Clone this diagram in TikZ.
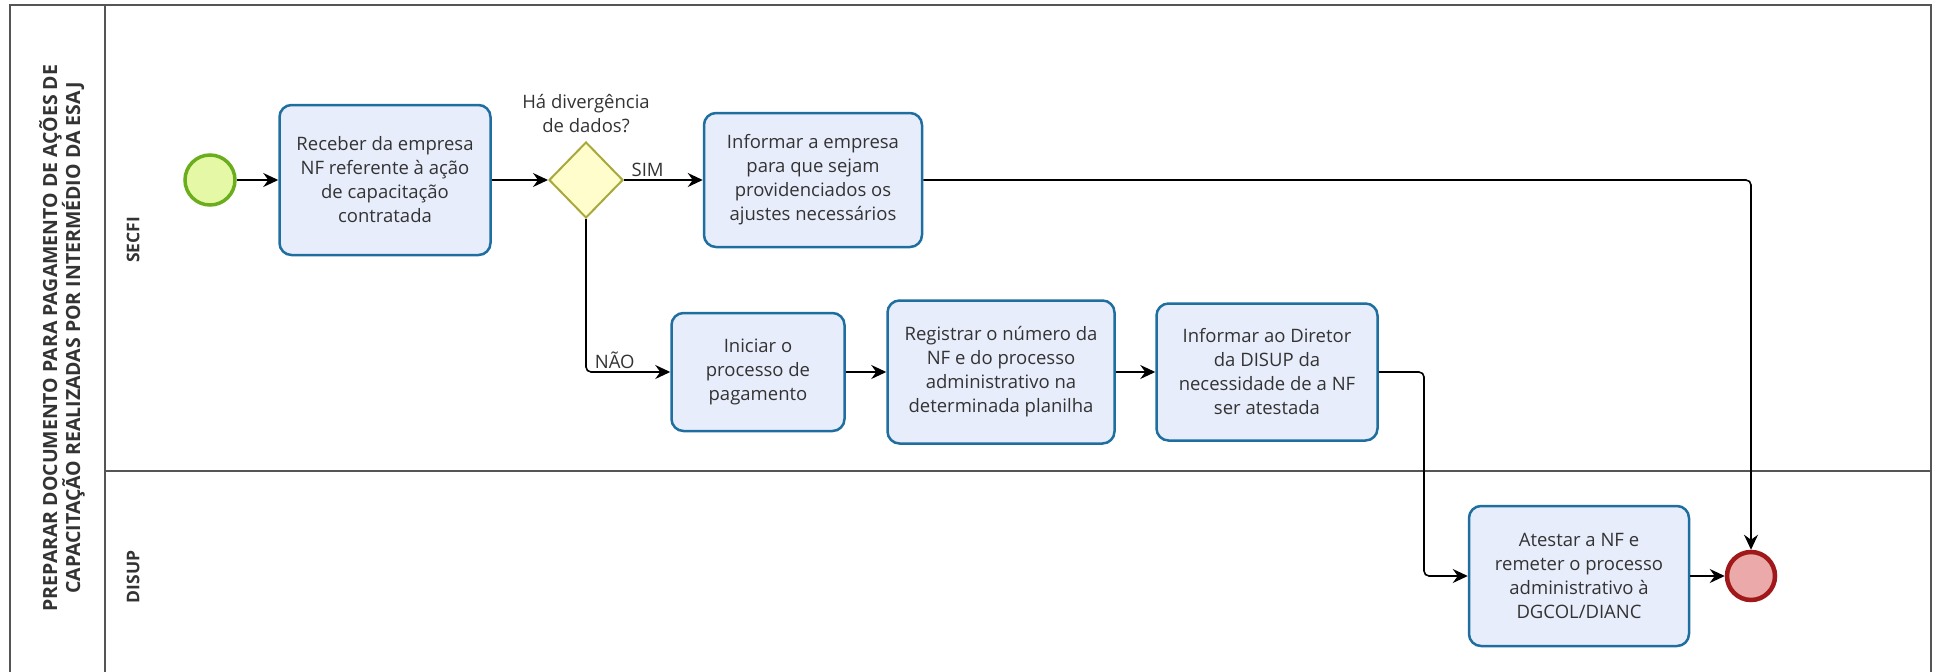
\documentclass[tikz,border=0pt]{standalone}
\usepackage{fontspec}
\setmainfont{Open Sans}
\usetikzlibrary{arrows.meta,shapes.geometric,positioning,calc}
\definecolor{taskfill}{HTML}{E8EDFB}
\definecolor{taskline}{HTML}{1E6E9F}
\definecolor{startfill}{HTML}{E4F8A6}
\definecolor{startline}{HTML}{6AAE1E}
\definecolor{endfill}{HTML}{EBA9A9}
\definecolor{endline}{HTML}{A0181A}
\definecolor{gatefill}{HTML}{FFFDCB}
\definecolor{gateline}{HTML}{A8A83C}
\definecolor{poolline}{HTML}{555555}
\definecolor{txt}{HTML}{333333}
\tikzset{
  task/.style={draw=taskline,fill=taskfill,line width=2.5pt,rounded corners=12pt,
    align=center,inner sep=0pt,text=txt,font=\fontsize{18.5}{24}\selectfont},
  flow/.style={line width=1.6pt,rounded corners=5pt,
    -{Stealth[length=15pt,width=14pt,inset=5pt]}},
  lane/.style={rotate=90,font=\bfseries\fontsize{17.5}{21}\selectfont,text=txt},
  lbl/.style={text=txt,font=\fontsize{18.5}{24}\selectfont}
}
\begin{document}
\begin{tikzpicture}[x=1pt,y=1pt]
\useasboundingbox (0,0) rectangle (1936,-672);
%% pool and lanes
\draw[poolline,line width=1.2pt] (10,-690) -- (10,-5) -- (1931,-5) -- (1931,-690);
\draw[poolline,line width=1.2pt] (105,-5) -- (105,-690);
\draw[poolline,line width=1.2pt] (105,-471) -- (1931,-471);
\node[rotate=90,align=center,text=txt,font=\bfseries\fontsize{19.5}{23}\selectfont] (pool) at (62,-338)
  {PREPARAR DOCUMENTO PARA PAGAMENTO DE AÇÕES DE\\CAPACITAÇÃO REALIZADAS POR INTERMÉDIO DA ESAJ};
\node[lane] (secfi) at (133,-240) {SECFI};
\node[lane] (disup) at (133,-577) {DISUP};
%% SECFI
\node[circle,draw=startline,fill=startfill,line width=3.5pt,minimum size=50pt,inner sep=0pt] (S) at (210,-180) {};
\node[task,minimum width=211pt,minimum height=150pt] (T1) at (385,-180)
  {Receber da empresa\\NF referente à ação\\de capacitação\\contratada};
\node[diamond,draw=gateline,fill=gatefill,line width=2pt,minimum width=74pt,minimum height=76pt,inner sep=0pt] (G) at (586,-180) {};
\node[lbl,align=center,above=5pt of G] (Gl) {Há divergência\\de dados?};
\node[task,minimum width=218pt,minimum height=134pt] (T2) at (813,-180)
  {Informar a empresa\\para que sejam\\providenciados os\\ajustes necessários};
\node[task,minimum width=173pt,minimum height=118pt] (T3) at (758,-372)
  {Iniciar o\\processo de\\pagamento};
\node[task,minimum width=227pt,minimum height=143pt] (T4) at (1001,-372)
  {Registrar o número da\\NF e do processo\\administrativo na\\determinada planilha};
\node[task,minimum width=221pt,minimum height=137pt] (T5) at (1267,-372)
  {Informar ao Diretor\\da DISUP da\\necessidade de a NF\\ser atestada};
%% DISUP
\node[task,minimum width=220pt,minimum height=140pt] (T6) at (1579,-576)
  {Atestar a NF e\\remeter o processo\\administrativo à\\DGCOL/DIANC};
\node[circle,draw=endline,fill=endfill,line width=4.5pt,minimum size=48pt,inner sep=0pt] (E) at (1751,-576) {};
\coordinate (k) at (1424,-372);
%% flows
\draw[flow] (S) -- (T1);
\draw[flow] (T1) -- (G);
\draw[flow] (G) -- node[lbl,pos=0.3,above=-1pt] (sim) {SIM} (T2);
\draw[flow] (T2.east) -| (E.north);
\draw[flow] (G.south) |- node[lbl,pos=0.67,above=-1pt] (nao) {NÃO} (T3.west);
\draw[flow] (T3) -- (T4);
\draw[flow] (T4) -- (T5);
\draw[flow] (T5.east) -- (k) |- (T6.west);
\draw[flow] (T6) -- (E);
\end{tikzpicture}
\end{document}
